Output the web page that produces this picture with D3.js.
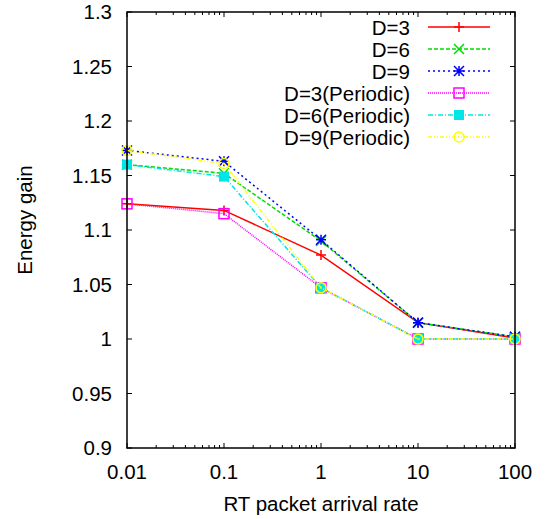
<!DOCTYPE html>
<html>
<head>
<meta charset="utf-8">
<script src="https://cdn.jsdelivr.net/npm/d3@7"></script>
<style>
  body { margin: 0; background: #fff; }
  svg { font-family: "Liberation Sans", Arial, sans-serif; }
</style>
</head>
<body>
<div id="my_dataviz"></div>
<script>
// data
const rates = [0.01, 0.1, 1, 10, 100];
const d3Vals  = [1.124, 1.118, 1.077, 1.015, 1.001];
const d6Vals  = [1.160, 1.152, 1.090, 1.015, 1.002];
const d9Vals  = [1.173, 1.163, 1.091, 1.015, 1.002];
const d3pVals = [1.124, 1.115, 1.047, 1.000, 1.000];
const d6pVals = [1.160, 1.149, 1.047, 1.000, 1.000];
const d9pVals = [1.173, 1.161, 1.047, 1.000, 1.000];
const seriesNames = ["D=3", "D=6", "D=9", "D=3(Periodic)", "D=6(Periodic)", "D=9(Periodic)"];
const yTicks = [0.9, 0.95, 1, 1.05, 1.1, 1.15, 1.2, 1.25, 1.3];

const series = [
  {name: seriesNames[0], values: d3Vals,  color: "#ff0000", dash: null,        marker: "plus"},
  {name: seriesNames[1], values: d6Vals,  color: "#00dd00", dash: "4,2",       marker: "cross"},
  {name: seriesNames[2], values: d9Vals,  color: "#0000ff", dash: "2,3",       marker: "star"},
  {name: seriesNames[3], values: d3pVals, color: "#ff00ff", dash: "1,1",       marker: "square"},
  {name: seriesNames[4], values: d6pVals, color: "#00e5e5", dash: "5,2,1,2",   marker: "fsquare"},
  {name: seriesNames[5], values: d9pVals, color: "#ffff00", dash: "4,2,1,2,1,2", marker: "circle"}
];

const fs = 20.5;
const margin = {top: 12, right: 33, bottom: 71, left: 127},
    width = 548 - margin.left - margin.right,
    height = 519 - margin.top - margin.bottom;

const svg = d3.select("#my_dataviz")
  .append("svg")
    .attr("width", 548)
    .attr("height", 519)
  .append("g")
    .attr("transform", `translate(${margin.left},${margin.top})`);

const x = d3.scaleLog().domain([0.01, 100]).range([0, width]);
const y = d3.scaleLinear().domain([0.9, 1.3]).range([height, 0]);

// minor log ticks
const minor = [];
for (let e = -2; e < 2; e++) {
  for (let k = 2; k <= 9; k++) minor.push(k * Math.pow(10, e));
}

const tickG = svg.append("g").attr("stroke", "#000").attr("stroke-width", 1);
rates.forEach(v => {
  tickG.append("line").attr("x1", x(v)).attr("x2", x(v)).attr("y1", height).attr("y2", height - 5);
  tickG.append("line").attr("x1", x(v)).attr("x2", x(v)).attr("y1", 0).attr("y2", 5);
});
minor.forEach(v => {
  tickG.append("line").attr("x1", x(v)).attr("x2", x(v)).attr("y1", height).attr("y2", height - 3);
  tickG.append("line").attr("x1", x(v)).attr("x2", x(v)).attr("y1", 0).attr("y2", 3);
});
yTicks.forEach(v => {
  tickG.append("line").attr("x1", 0).attr("x2", 5).attr("y1", y(v)).attr("y2", y(v));
  tickG.append("line").attr("x1", width).attr("x2", width - 5).attr("y1", y(v)).attr("y2", y(v));
});

// tick labels
svg.append("g").selectAll("text")
  .data(rates)
  .join("text")
    .attr("x", d => x(d))
    .attr("y", height + 31)
    .attr("text-anchor", "middle")
    .attr("font-size", fs)
    .text(d => d3.format("~g")(d));

svg.append("g").selectAll("text")
  .data(yTicks)
  .join("text")
    .attr("x", -15)
    .attr("y", d => y(d) + 7)
    .attr("text-anchor", "end")
    .attr("font-size", fs)
    .text(d => d3.format("~g")(d));

// axis titles
svg.append("text")
  .attr("x", width / 2)
  .attr("y", height + 63)
  .attr("text-anchor", "middle")
  .attr("font-size", fs)
  .text("RT packet arrival rate");

svg.append("text")
  .attr("transform", "rotate(-90)")
  .attr("x", -208)
  .attr("y", -95)
  .attr("text-anchor", "middle")
  .attr("font-size", fs)
  .text("Energy gain");

function drawMarker(g, type, cx, cy, color) {
  const s = 5;
  if (type === "plus") {
    g.append("path").attr("d", `M${cx - s},${cy}H${cx + s}M${cx},${cy - s}V${cy + s}`)
      .attr("stroke", color).attr("stroke-width", 1.5).attr("fill", "none");
  } else if (type === "cross") {
    g.append("path").attr("d", `M${cx - s},${cy - s}L${cx + s},${cy + s}M${cx - s},${cy + s}L${cx + s},${cy - s}`)
      .attr("stroke", color).attr("stroke-width", 1.5).attr("fill", "none");
  } else if (type === "star") {
    g.append("path").attr("d", `M${cx - s},${cy}H${cx + s}M${cx},${cy - s}V${cy + s}M${cx - s},${cy - s}L${cx + s},${cy + s}M${cx - s},${cy + s}L${cx + s},${cy - s}`)
      .attr("stroke", color).attr("stroke-width", 1.5).attr("fill", "none");
  } else if (type === "square") {
    g.append("rect").attr("x", cx - s).attr("y", cy - s).attr("width", 2 * s).attr("height", 2 * s)
      .attr("stroke", color).attr("stroke-width", 1.5).attr("fill", "none");
    g.append("rect").attr("x", cx - 0.75).attr("y", cy - 0.75).attr("width", 1.5).attr("height", 1.5).attr("fill", color);
  } else if (type === "fsquare") {
    g.append("rect").attr("x", cx - s).attr("y", cy - s).attr("width", 2 * s).attr("height", 2 * s)
      .attr("fill", color);
  } else if (type === "circle") {
    g.append("circle").attr("cx", cx).attr("cy", cy).attr("r", s)
      .attr("stroke", color).attr("stroke-width", 1.5).attr("fill", "none");
    g.append("rect").attr("x", cx - 0.75).attr("y", cy - 0.75).attr("width", 1.5).attr("height", 1.5).attr("fill", color);
  }
}

const line = d3.line().x(d => x(d[0])).y(d => y(d[1]));

series.forEach(s => {
  const pts = rates.map((r, i) => [r, s.values[i]]);
  svg.append("path")
    .datum(pts)
    .attr("d", line)
    .attr("fill", "none")
    .attr("stroke", s.color)
    .attr("stroke-width", 1.5)
    .attr("stroke-dasharray", s.dash);
  const mg = svg.append("g");
  pts.forEach(p => drawMarker(mg, s.marker, x(p[0]), y(p[1]), s.color));
});

// legend
const legend = svg.append("g");
series.forEach((s, i) => {
  const ly = 15 + i * 22;
  legend.append("text")
    .attr("x", 283)
    .attr("y", ly + 7.5)
    .attr("text-anchor", "end")
    .attr("font-size", fs)
    .text(s.name);
  legend.append("line")
    .attr("x1", 301).attr("x2", 363)
    .attr("y1", ly).attr("y2", ly)
    .attr("stroke", s.color)
    .attr("stroke-width", 1.5)
    .attr("stroke-dasharray", s.dash);
  drawMarker(legend, s.marker, 332, ly, s.color);
});

// frame
svg.append("rect")
  .attr("width", width)
  .attr("height", height)
  .attr("fill", "none")
  .attr("stroke", "#000")
  .attr("stroke-width", 1.5);
</script>
</body>
</html>
